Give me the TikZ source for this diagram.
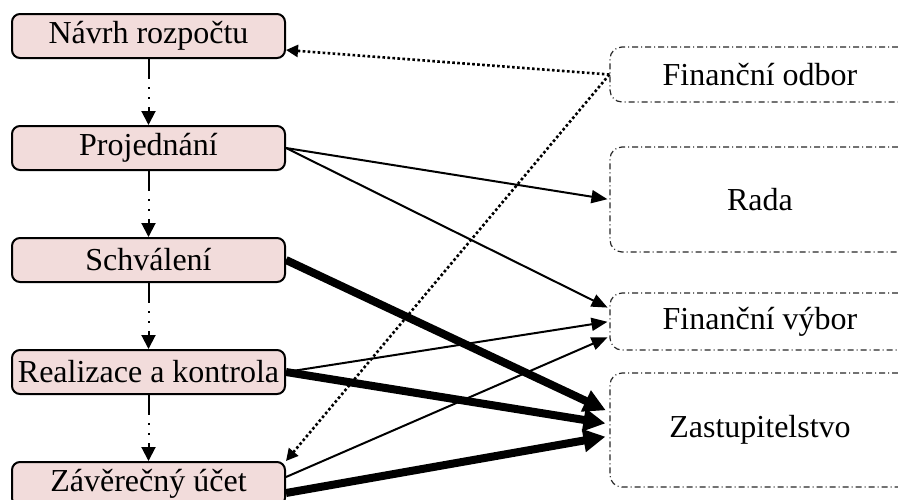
\documentclass[tikz,border=0pt]{standalone}
\usepackage{fontspec}
\setmainfont{Liberation Serif}
\usepackage{tikz}
\usetikzlibrary{positioning}
\usetikzlibrary{shapes,calc,arrows.meta}
\definecolor{boxpink}{HTML}{F2DCDB}

\begin{document}
\begin{tikzpicture}[x=0.5pt,y=-0.5pt,node distance=56pt,font=\fontsize{16}{19}\selectfont,
  stage/.style={rectangle,rounded corners=4pt,draw,line width=1pt,fill=boxpink,minimum width=136.5pt,minimum height=22pt,inner sep=0pt},
  body/.style={rectangle,rounded corners=6pt,draw=black!85,line width=0.6pt,dash pattern=on 3pt off 1.5pt on 0.5pt off 1.5pt,minimum width=150pt,inner sep=0pt},
  flow/.style={-{Triangle[length=7pt,width=7pt]},line width=1pt,dash pattern=on 10pt off 4pt on 1pt off 4pt on 1pt off 4pt},
  thin/.style={-{Triangle[length=8pt,width=6.5pt]},line width=1pt,shorten >=1pt},
  heavy/.style={-{Triangle[length=11pt,width=11pt]},line width=4pt,shorten >=2pt},
  info/.style={-{Triangle[length=6pt,width=6pt]},line width=1.3pt,dash pattern=on 1.3pt off 1.2pt}]
  \useasboundingbox (0,0) rectangle (898,499);
  \node[stage] (navrh) at (148.5,36) {Návrh rozpočtu};
  \node[stage] (projednani) [below of=navrh] {Projednání};
  \node[stage] (schvaleni) [below of=projednani] {Schválení};
  \node[stage] (realizace) [below of=schvaleni] {Realizace a kontrola};
  \node[stage] (zaverecny) [below of=realizace] {Závěrečný účet};
  \node[body,minimum height=27.5pt] (fodbor) at (760,74.5) {Finanční odbor};
  \node[body,minimum height=52.5pt] (rada) at (760,199.5) {Rada};
  \node[body,minimum height=28.5pt] (fvybor) at (760,321.5) {Finanční výbor};
  \node[body,minimum height=57pt] (zastup) at (760,430) {Zastupitelstvo};
  \draw[flow] (navrh) -- (projednani);
  \draw[flow] (projednani) -- (schvaleni);
  \draw[flow] (schvaleni) -- (realizace);
  \draw[flow] (realizace) -- (zaverecny);
  \draw[info] (fodbor.west) -- ([yshift=-7pt]navrh.east);
  \draw[info] (fodbor.west) -- (zaverecny.north east);
  \draw[thin] (projednani.east) -- (rada.west);
  \draw[thin] (projednani.east) -- ([yshift=6.5pt]fvybor.west);
  \draw[thin] (realizace.east) -- (fvybor.west);
  \draw[thin] ([yshift=3.5pt]zaverecny.east) -- ([yshift=-7.5pt]fvybor.west);
  \draw[heavy] (schvaleni.east) -- ([yshift=9pt]zastup.west);
  \draw[heavy] (realizace.east) -- ([yshift=3pt]zastup.west);
  \draw[heavy] ([yshift=-4.5pt]zaverecny.east) -- ([yshift=-3pt]zastup.west);
\end{tikzpicture}
\end{document}
